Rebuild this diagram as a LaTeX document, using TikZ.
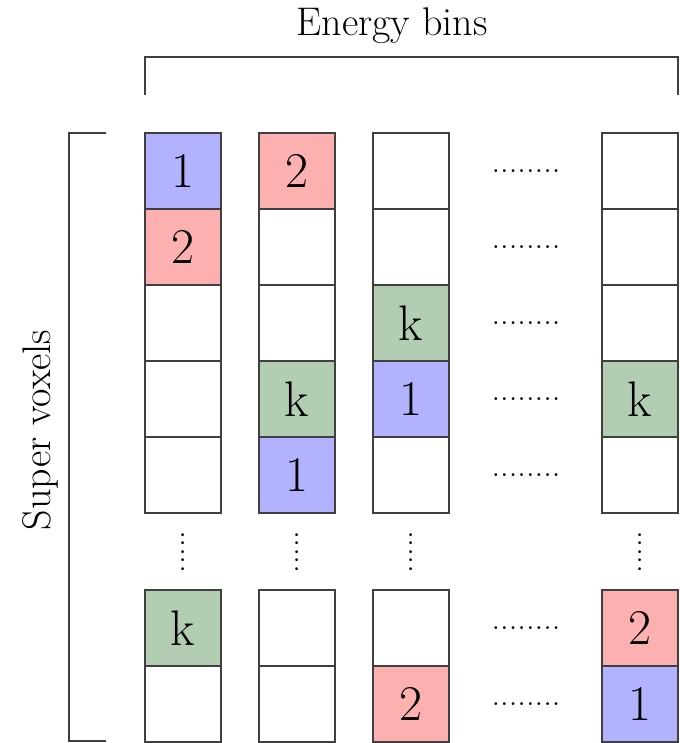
\documentclass[tikz,border=0pt]{standalone}
\usepackage{tikz}
\definecolor{cblue}{RGB}{178,178,255}
\definecolor{cred}{RGB}{252,176,176}
\definecolor{cgreen}{RGB}{178,205,178}
\tikzset{
  cell/.style={draw=black!75, line width=1.1pt, minimum size=76pt, inner sep=0pt, fill=white,
    font=\fontsize{50}{60}\selectfont},
  lbl/.style={inner sep=0pt, font=\fontsize{40}{48}\selectfont},
  hdots/.style={inner sep=0pt, font=\fontsize{34.5}{40}\selectfont},
  brace/.style={draw=black!75, line width=1.1pt}
}
\begin{document}
\begin{tikzpicture}[x=1pt,y=-1pt]
\useasboundingbox (0,0) rectangle (679,743);
% column 1
\node[cell, fill=cblue] (a1) at (183,171) {1};
\node[cell, fill=cred] (a2) at (183,247) {2};
\node[cell] (a3) at (183,323) {};
\node[cell] (a4) at (183,399) {};
\node[cell] (a5) at (183,475) {};
\node[cell, fill=cgreen] (a6) at (183,628) {k};
\node[cell] (a7) at (183,704) {};
% column 2
\node[cell, fill=cred] (b1) at (297,171) {2};
\node[cell] (b2) at (297,247) {};
\node[cell] (b3) at (297,323) {};
\node[cell, fill=cgreen] (b4) at (297,399) {k};
\node[cell, fill=cblue] (b5) at (297,475) {1};
\node[cell] (b6) at (297,628) {};
\node[cell] (b7) at (297,704) {};
% column 3
\node[cell] (c1) at (411,171) {};
\node[cell] (c2) at (411,247) {};
\node[cell, fill=cgreen] (c3) at (411,323) {k};
\node[cell, fill=cblue] (c4) at (411,399) {1};
\node[cell] (c5) at (411,475) {};
\node[cell] (c6) at (411,628) {};
\node[cell, fill=cred] (c7) at (411,704) {2};
% column 4
\node[cell] (d1) at (640,171) {};
\node[cell] (d2) at (640,247) {};
\node[cell] (d3) at (640,323) {};
\node[cell, fill=cgreen] (d4) at (640,399) {k};
\node[cell] (d5) at (640,475) {};
\node[cell, fill=cred] (d6) at (640,628) {2};
\node[cell, fill=cblue] (d7) at (640,704) {1};
% horizontal dots
\foreach \r/\y in {1/171,2/247,3/323,4/399,5/475,6/628,7/704}
  \node[hdots] (h\r) at (526,\y) {........};
% vertical dots
\foreach \c/\x in {1/183,2/297,3/411,4/640}
  \node[hdots, rotate=90] (v\c) at (\x,552) {.....};
% top brace
\coordinate (t1) at (145,95);
\coordinate (t2) at (145,57);
\coordinate (t3) at (678,57);
\coordinate (t4) at (678,95);
\draw[brace] (t1) -- (t2) -- (t3) -- (t4);
\node[lbl, anchor=base] (eb) at (392,36) {Energy bins};
% left brace
\coordinate (l1) at (106,133);
\coordinate (l2) at (69,133);
\coordinate (l3) at (69,741);
\coordinate (l4) at (106,741);
\draw[brace] (l1) -- (l2) -- (l3) -- (l4);
\node[lbl, anchor=base, rotate=90] (sv) at (50,430) {Super voxels};
\end{tikzpicture}
\end{document}
